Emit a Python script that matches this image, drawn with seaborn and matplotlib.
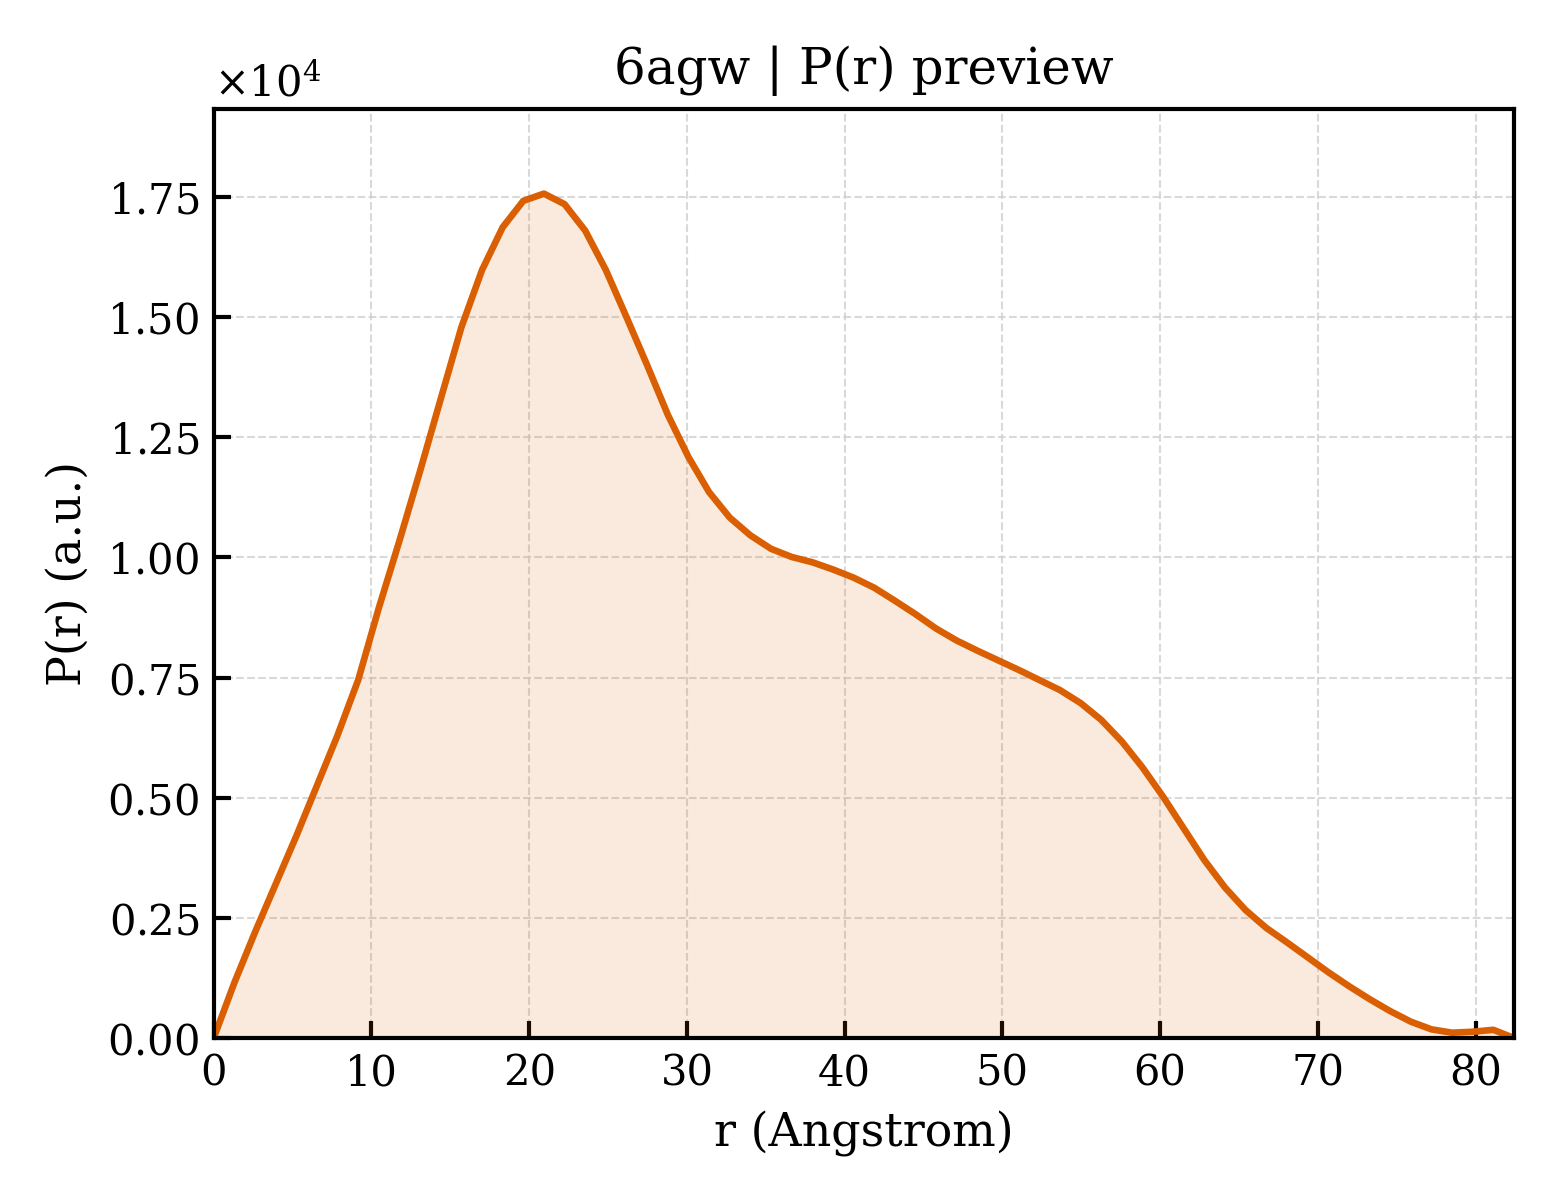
import numpy as np
import pandas as pd
import matplotlib
matplotlib.use("Agg")
import matplotlib.pyplot as plt
import seaborn as sns

# P(r) curve (64 points on a regular r grid)
r_max = 82.43
n_points = 64
r = np.linspace(0, r_max, n_points)
pr = [0, 1150, 2200, 3200, 4200, 5250, 6300, 7450, 8950, 10350,
      11800, 13300, 14790, 15980, 16870, 17420, 17570, 17350, 16800, 15980,
      15000, 14000, 12970, 12090, 11360, 10830, 10460, 10180, 10010, 9900,
      9750, 9580, 9370, 9100, 8820, 8520, 8270, 8060, 7860, 7660,
      7450, 7240, 6970, 6620, 6170, 5630, 5020, 4360, 3700, 3130,
      2660, 2290, 1990, 1680, 1370, 1080, 810, 560, 340, 180,
      110, 130, 170, 0]

df = pd.DataFrame({"r": r, "pr": pr})
line_color = "#D95F02"

sns.set_style("ticks")
plt.rcParams["font.family"] = ["DejaVu Serif"]
plt.rcParams["mathtext.fontset"] = "dejavuserif"
plt.rcParams["text.color"] = "black"
plt.rcParams["axes.labelcolor"] = "black"
plt.rcParams["xtick.color"] = "black"
plt.rcParams["ytick.color"] = "black"

fig, ax = plt.subplots(figsize=(5.2, 4), dpi=300)
fig.subplots_adjust(left=0.137, right=0.9705, top=0.909, bottom=0.135)

ax.fill_between(df["r"], df["pr"], color=line_color, alpha=0.13, linewidth=0)
sns.lineplot(data=df, x="r", y="pr", ax=ax, color=line_color, linewidth=1.6)

ax.set_xlim(0, r_max)
ax.set_ylim(0, 1.1 * max(pr))
ax.set_xticks([0, 10, 20, 30, 40, 50, 60, 70, 80])
ax.ticklabel_format(axis="y", style="sci", scilimits=(0, 0), useMathText=True)
ax.yaxis.get_offset_text().set_fontsize(10)

ax.grid(True, linestyle="--", linewidth=0.5, color="#d0d0d0", alpha=0.8)
ax.tick_params(direction="in", length=4, width=1, labelsize=10)
for s in ax.spines.values():
    s.set_linewidth(1.0)
    s.set_color("black")

ax.set_xlabel("r (Angstrom)", fontsize=11)
ax.set_ylabel("P(r) (a.u.)", fontsize=11)
ax.set_title("6agw | P(r) preview", fontsize=12)

plt.savefig("out.png", dpi=300)
